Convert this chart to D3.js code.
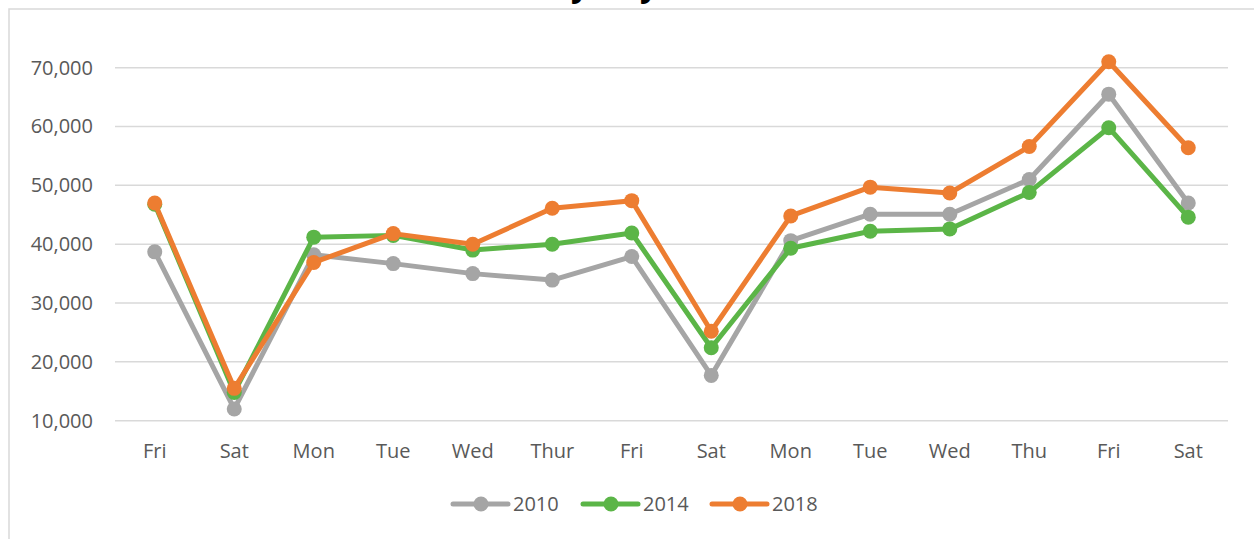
<!DOCTYPE html>
<html>
<head>
  <title>Traffic by Day</title>
  <script src="https://d3js.org/d3.v7.min.js"></script>
  <style>
    body { margin: 0; background: #fff; }
    text { font-family: "Open Sans", sans-serif; }
  </style>
</head>
<body>
  <div id="chart"></div>

  <script>
    const days = ["Fri", "Sat", "Mon", "Tue", "Wed", "Thur", "Fri", "Sat", "Mon", "Tue", "Wed", "Thu", "Fri", "Sat"];
    const years = ["2010", "2014", "2018"];
    const values2010 = [38700, 12000, 38200, 36700, 35000, 33900, 37900, 17700, 40600, 45100, 45100, 51000, 65500, 47000];
    const values2014 = [46800, 14800, 41200, 41500, 39000, 40000, 41900, 22400, 39300, 42200, 42600, 48800, 59800, 44600];
    const values2018 = [47000, 15500, 36900, 41800, 40000, 46100, 47400, 25200, 44800, 49700, 48700, 56600, 71000, 56400];
    const yTicks = [10000, 20000, 30000, 40000, 50000, 60000, 70000];
    const colors = ["#a5a5a5", "#5bb547", "#ed7d31"];

    const width = 1254;
    const height = 539;
    const margin = { top: 67.7, right: 26, bottom: 118.3, left: 115 };

    const svg = d3.select("#chart")
      .append("svg")
      .attr("width", width)
      .attr("height", height);

    // chart frame (runs past the right and bottom edges)
    svg.append("rect")
      .attr("x", 9).attr("y", 9)
      .attr("width", width + 10).attr("height", height + 10)
      .attr("fill", "none")
      .attr("stroke", "#d9d9d9")
      .attr("stroke-width", 1.5);

    // title, only its descenders show at the top
    const titleText = "Traffic by Day";
    const title = svg.append("text")
      .text(titleText)
      .attr("x", 0).attr("y", -4.5)
      .attr("font-size", 30)
      .attr("font-weight", "bold")
      .attr("fill", "#000");
    const charMid = i => { const b = title.node().getExtentOfChar(i); return b.x + b.width / 2; };
    const i1 = titleText.indexOf("y"), i2 = titleText.lastIndexOf("y");
    title.attr("font-size", 30 * 69 / (charMid(i2) - charMid(i1)));
    title.attr("x", 580 - charMid(i1));

    const x = d3.scaleBand()
      .domain(d3.range(days.length))
      .range([margin.left, width - margin.right]);

    const y = d3.scaleLinear()
      .domain([10000, 70000])
      .range([height - margin.bottom, margin.top]);

    // gridlines
    svg.append("g")
      .selectAll("line")
      .data(yTicks)
      .join("line")
      .attr("x1", margin.left)
      .attr("x2", width - margin.right)
      .attr("y1", d => y(d))
      .attr("y2", d => y(d))
      .attr("stroke", "#d9d9d9")
      .attr("stroke-width", 1.5);

    const yAxis = d3.axisLeft(y)
      .tickValues(yTicks)
      .tickFormat(d3.format(","))
      .tickSize(0)
      .tickPadding(22);

    svg.append("g")
      .attr("transform", `translate(${margin.left}, 0)`)
      .call(yAxis)
      .call(g => g.select(".domain").remove())
      .selectAll("text")
      .attr("font-family", "Open Sans")
      .attr("font-size", 20)
      .attr("fill", "#595959");

    const xAxis = d3.axisBottom(x)
      .tickFormat(i => days[i])
      .tickSize(0)
      .tickPadding(23);

    svg.append("g")
      .attr("transform", `translate(0, ${height - margin.bottom})`)
      .call(xAxis)
      .call(g => g.select(".domain").remove())
      .selectAll("text")
      .attr("font-family", "Open Sans")
      .attr("font-size", 20)
      .attr("fill", "#595959");

    const series = [values2010, values2014, values2018];
    const cx = i => x(i) + x.bandwidth() / 2;
    const line = d3.line()
      .x((d, i) => cx(i))
      .y(d => y(d));

    series.forEach((vals, s) => {
      const g = svg.append("g");
      g.append("path")
        .datum(vals)
        .attr("d", line)
        .attr("fill", "none")
        .attr("stroke", colors[s])
        .attr("stroke-width", 5)
        .attr("stroke-linejoin", "round");
      g.selectAll("circle")
        .data(vals)
        .join("circle")
        .attr("cx", (d, i) => cx(i))
        .attr("cy", d => y(d))
        .attr("r", 7.5)
        .attr("fill", colors[s]);
    });

    // legend
    const legendX = [453, 583, 712];
    const legendY = 504;
    const legend = svg.append("g")
      .selectAll("g")
      .data(years)
      .join("g")
      .attr("transform", (d, i) => `translate(${legendX[i]}, ${legendY})`);
    legend.append("line")
      .attr("x1", 0).attr("x2", 55)
      .attr("stroke", (d, i) => colors[i])
      .attr("stroke-width", 5)
      .attr("stroke-linecap", "round");
    legend.append("circle")
      .attr("cx", 28).attr("r", 7.5)
      .attr("fill", (d, i) => colors[i]);
    legend.append("text")
      .attr("x", 60)
      .attr("dy", "0.35em")
      .attr("font-size", 20)
      .attr("fill", "#595959")
      .text(d => d);
  </script>
</body>
</html>
